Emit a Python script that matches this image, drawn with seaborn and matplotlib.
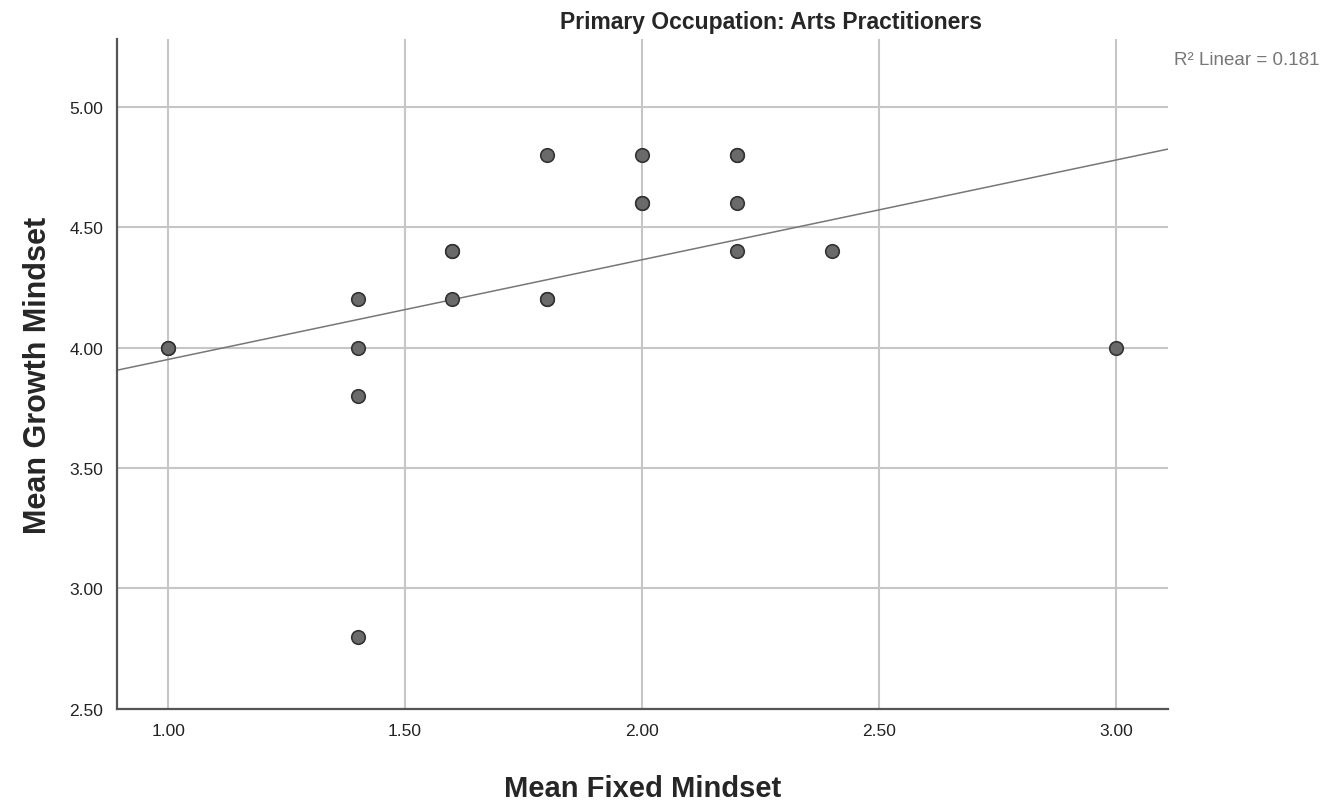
import numpy as np
import pandas as pd
import matplotlib
matplotlib.use("Agg")
import matplotlib.pyplot as plt
import seaborn as sns

# ----------------------------
# DATA (overlapping points kept twice)
# ----------------------------
fixed_mindset = [1.0, 1.0, 1.4, 1.4, 1.4, 1.4, 1.6, 1.6, 1.6, 1.8, 1.8, 1.8,
                 2.0, 2.0, 2.0, 2.2, 2.2, 2.2, 2.2, 2.4, 3.0]
growth_mindset = [4.0, 4.0, 4.2, 4.0, 3.8, 2.8, 4.4, 4.4, 4.2, 4.8, 4.2, 4.2,
                  4.8, 4.6, 4.6, 4.8, 4.8, 4.6, 4.4, 4.4, 4.0]
x_ticks = [1.0, 1.5, 2.0, 2.5, 3.0]
y_ticks = [2.5, 3.0, 3.5, 4.0, 4.5, 5.0]

df = pd.DataFrame({"fixed": fixed_mindset, "growth": growth_mindset})

r = np.corrcoef(df["fixed"], df["growth"])[0, 1]
print("R2:", round(r ** 2, 3))

# ----------------------------
# PLOT
# ----------------------------
sns.set_style("white")
plt.rcParams["font.family"] = ["Liberation Sans", "DejaVu Sans"]

fig = plt.figure(figsize=(13.36, 8.04), dpi=100)
ax = fig.add_axes([0.0876, 0.117, 0.7866, 0.833])

ax.set_xlim(0.892, 3.11)
ax.set_ylim(2.5, 5.28)

sns.regplot(data=df, x="fixed", y="growth", ax=ax, ci=None, truncate=False,
            scatter=False, line_kws={"color": "#777777", "linewidth": 1.1})
sns.scatterplot(data=df, x="fixed", y="growth", ax=ax, s=95,
                color="#6a6a6a", edgecolor="#333333", linewidth=1.2, zorder=5)

ax.set_xticks(x_ticks)
ax.set_yticks(y_ticks)
ax.set_xticklabels([f"{v:.2f}" for v in x_ticks], fontsize=12.5, color="#222222")
ax.set_yticklabels([f"{v:.2f}" for v in y_ticks], fontsize=12.5, color="#222222")
ax.tick_params(length=0, pad=10)

ax.grid(True, color="#c6c6c6", linewidth=1.5)
ax.set_axisbelow(True)
for s in ["top", "right"]:
    ax.spines[s].set_visible(False)
for s in ["left", "bottom"]:
    ax.spines[s].set_color("#555555")
    ax.spines[s].set_linewidth(1.6)

ax.set_xlabel("Mean Fixed Mindset", fontsize=21, fontweight="bold", labelpad=26)
ax.set_ylabel("Mean Growth Mindset", fontsize=22, fontweight="bold", labelpad=12)

fig.text(0.577, 0.972, "Primary Occupation: Arts Practitioners",
         ha="center", va="center", fontsize=16.5, fontweight="bold")
fig.text(0.879, 0.925, "R\u00b2 Linear = 0.181", ha="left", va="center",
         fontsize=13.5, color="#777777")

plt.savefig("out.png", dpi=100)
